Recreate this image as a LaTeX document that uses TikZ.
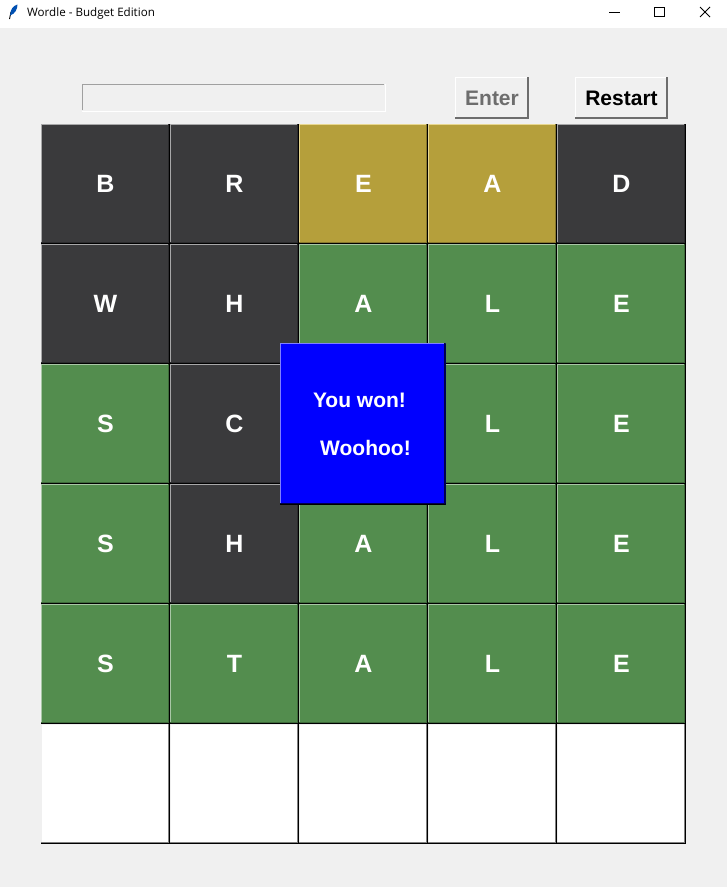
\documentclass[tikz,border=0pt]{standalone}
\usepackage{fontspec}
\setmainfont{Liberation Sans}
\newfontfamily\titlefont{Open Sans}
\definecolor{winbg}{HTML}{F0F0F0}
\definecolor{tdark}{HTML}{3A3A3C}
\definecolor{tyellow}{HTML}{B59F3B}
\definecolor{tgreen}{HTML}{538D4E}
\definecolor{tblank}{HTML}{FFFFFF}
\definecolor{hltdark}{HTML}{A8A8A9}
\definecolor{hltyellow}{HTML}{E8D78F}
\definecolor{hltgreen}{HTML}{A9C6A6}
\definecolor{hltblank}{HTML}{F0F0F0}
\definecolor{shtdark}{HTML}{2B2B2D}
\definecolor{shtyellow}{HTML}{87772C}
\definecolor{shtgreen}{HTML}{3E6A3A}
\definecolor{shtblank}{HTML}{808080}
\definecolor{bevelgray}{HTML}{6D6D6D}
\definecolor{entrygray}{HTML}{A0A0A0}
\definecolor{entertext}{HTML}{6D6D6D}
\tikzset{
  x=1pt,y=-1pt,
  bevel/.style n args={3}{path picture={
    \coordinate (pa) at (path picture bounding box.south west);
    \coordinate (pb) at (path picture bounding box.north east);
    \draw[#1,line width=1pt] ([yshift=0pt,xshift=.5pt]pa) -- ([xshift=.5pt]pa|-pb);
    \draw[#1,line width=1pt] ([yshift=-.5pt]pa|-pb) -- ([yshift=-.5pt]pb);
    \draw[#2,line width=1pt] ([xshift=-1.5pt]pb) -- ([xshift=-1.5pt]pb|-pa);
    \draw[#2,line width=1pt] ([yshift=1.5pt]pa) -- ([yshift=1.5pt]pa-|pb);
    \draw[#3,line width=1pt] ([xshift=-.5pt]pb) -- ([xshift=-.5pt]pb|-pa);
    \draw[#3,line width=1pt] ([yshift=.5pt]pa) -- ([yshift=.5pt]pa-|pb);
  }},
  cell/.style={rectangle,inner sep=0pt,minimum width=129pt,minimum height=120pt,
    text=white,font=\fontsize{25}{30}\selectfont\bfseries},
  btn/.style={rectangle,inner sep=0pt,minimum height=42pt,fill=winbg,
    font=\fontsize{21}{25}\selectfont\bfseries,bevel={white}{bevelgray}{bevelgray}},
  popuptext/.style={inner sep=0pt,text=white,font=\fontsize{21}{25}\selectfont\bfseries},
  capt/.style={inner sep=0pt,anchor=west,font=\fontsize{11.6}{14}\selectfont\titlefont},
  winctl/.style={draw=black,line width=1pt}
}
\begin{document}
\begin{tikzpicture}
\useasboundingbox (0,0) rectangle (727,887);
\fill[winbg] (0,0) rectangle (727,887);
% title bar
\fill[white] (0,0) rectangle (727,28);
\draw[black,line width=.9pt] (9.5,19) -- (11,12);
\fill[blue!55!cyan!70!black] (10,15.5) .. controls (10.5,9) and (13,6) .. (17.5,4.5) .. controls (17.5,9) and (15,14) .. (10,15.5) -- cycle;
\node[capt] (wintitle) at (27,13.7) {Wordle - Budget Edition};
\coordinate (minl) at (609,12.5); \coordinate (minr) at (620,12.5);
\draw[winctl] (minl) -- (minr);
\draw[winctl] (654.5,7.5) rectangle (664.5,16.5);
\draw[winctl,line width=.8pt] (700,7) -- (710,17) (710,7) -- (700,17);
% controls
\node[rectangle,inner sep=0pt,minimum width=304pt,minimum height=28pt,fill=winbg,
      bevel={entrygray}{winbg}{white}] (entry) at (234,98) {};
\node[btn,minimum width=74pt,text=entertext] (enter) at (492,98) {Enter};
\node[btn,minimum width=93pt,text=black] (restart) at (621.5,98) {Restart};
% grid
\foreach \r/\row in {0/{B/tdark,R/tdark,E/tyellow,A/tyellow,D/tdark},
                     1/{W/tdark,H/tdark,A/tgreen,L/tgreen,E/tgreen},
                     2/{S/tgreen,C/tdark,A/tgreen,L/tgreen,E/tgreen},
                     3/{S/tgreen,H/tdark,A/tgreen,L/tgreen,E/tgreen},
                     4/{S/tgreen,T/tgreen,A/tgreen,L/tgreen,E/tgreen},
                     5/{{}/tblank,{}/tblank,{}/tblank,{}/tblank,{}/tblank}}{
  \foreach \ch/\col [count=\c from 0] in \row {
    \node[cell,fill=\col,bevel={hl\col}{sh\col}{black}] (c-\r-\c) at ({41+64.5+129*\c},{124+60+120*\r}) {\raisebox{.7pt}{\ch}};
  }
}
% popup
\node[rectangle,inner sep=0pt,minimum width=165.5pt,minimum height=162pt,fill=blue,
      bevel={blue!50!white}{black!70!blue}{black}] (popup) at (362.8,424) {};
\node[popuptext] (won) at (359.5,400) {You won!};
\node[popuptext] (woo) at (365.5,448) {Woohoo!};
\end{tikzpicture}
\end{document}
